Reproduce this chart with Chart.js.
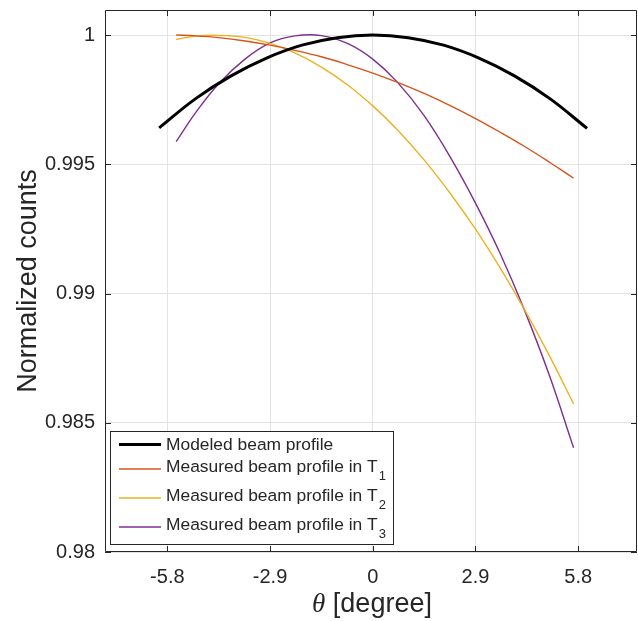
<!DOCTYPE html>
<html>
<head>
<meta charset="utf-8">
<script src="https://cdn.jsdelivr.net/npm/chart.js@4.4.1/dist/chart.umd.min.js"></script>
<style>
  html, body { margin: 0; padding: 0; background: #fff; }
  #wrap { width: 638px; height: 621px; }
</style>
</head>
<body>
<div id="wrap"><canvas id="chart"></canvas></div>
<script>
// tick positions / labels
const xTicks = [-5.8, -2.9, 0, 2.9, 5.8];
const xTickLabels = ['-5.8', '-2.9', '0', '2.9', '5.8'];
const yTicks = [0.98, 0.985, 0.99, 0.995, 1];
const yTickLabels = ['0.98', '0.985', '0.99', '0.995', '1'];

// modeled profile
const thetaModel = [-6.03, -5, -4, -3, -2, -1, 0, 1, 2, 3, 4, 5, 6.05];
const countsModel = [0.99641, 0.99754, 0.99842, 0.99911, 0.99961, 0.9999, 1.0,
                     0.9999, 0.99961, 0.99911, 0.99842, 0.99754, 0.99639];

// measured profiles
const thetaMeasured = [-5.55, -5, -4.35, -3.6, -2.9, -2.2, -1.45, -0.7, 0,
                       0.7, 1.45, 2.2, 2.9, 3.6, 4.3, 5, 5.67];
const countsT1 = [1.0, 0.99997, 0.9999, 0.99977, 0.99961, 0.99941, 0.99916, 0.99885, 0.99853,
                  0.99817, 0.99774, 0.99726, 0.99677, 0.99624, 0.99568, 0.99507, 0.99446];
const countsT2 = [0.99983, 0.99996, 0.99999, 0.99991, 0.99968, 0.99931, 0.99876, 0.99806, 0.99726,
                  0.99633, 0.99517, 0.99385, 0.99249, 0.99098, 0.98934, 0.98756, 0.98573];
const countsT3 = [0.99588, 0.997, 0.99812, 0.99908, 0.9997, 0.99997, 0.99998, 0.99967, 0.99907,
                  0.99817, 0.99688, 0.99525, 0.9935, 0.99154, 0.9893, 0.98678, 0.98403];

const seriesNames = ['Modeled beam profile', 'Measured beam profile in T',
                     'Measured beam profile in T', 'Measured beam profile in T'];
const seriesSubs = ['', '1', '2', '3'];

const pts = (xs, ys) => xs.map((x, i) => ({x: x, y: ys[i]}));

const AXIS = '#262626';
const SANS = '"Liberation Sans", Arial, Helvetica, sans-serif';

// box, inward ticks, legend and x label (MATLAB look)
const matlabFrame = {
    id: 'matlabFrame',
    afterDatasetsDraw(chart) {
        const {ctx, chartArea: a, scales: {x, y}} = chart;
        ctx.save();
        ctx.strokeStyle = AXIS;
        ctx.lineWidth = 1;
        ctx.beginPath();
        ctx.rect(a.left + 0.5, a.top + 0.5, a.right - a.left - 1, a.bottom - a.top - 1);
        xTicks.forEach(v => {
            const px = Math.round(x.getPixelForValue(v)) + 0.5;
            ctx.moveTo(px, a.bottom); ctx.lineTo(px, a.bottom - 6);
            ctx.moveTo(px, a.top); ctx.lineTo(px, a.top + 6);
        });
        yTicks.forEach(v => {
            const py = Math.round(y.getPixelForValue(v)) + 0.5;
            ctx.moveTo(a.left, py); ctx.lineTo(a.left + 6, py);
            ctx.moveTo(a.right, py); ctx.lineTo(a.right - 6, py);
        });
        ctx.stroke();
        ctx.restore();
    },
    afterDraw(chart) {
        const ctx = chart.ctx;
        ctx.save();

        // legend
        const bx = 110.5, by = 431.5, bw = 283, bh = 113;
        ctx.fillStyle = '#fff';
        ctx.fillRect(bx, by, bw, bh);
        ctx.strokeStyle = AXIS;
        ctx.lineWidth = 1;
        ctx.strokeRect(bx, by, bw, bh);
        const textY = [445, 467, 496.5, 525.5];
        const lineY = [444.5, 469, 498, 527];
        chart.data.datasets.forEach((ds, i) => {
            ctx.strokeStyle = ds.borderColor;
            ctx.lineWidth = ds.borderWidth;
            ctx.beginPath();
            ctx.moveTo(119, lineY[i]);
            ctx.lineTo(161, lineY[i]);
            ctx.stroke();
            ctx.fillStyle = AXIS;
            ctx.textBaseline = 'middle';
            ctx.textAlign = 'left';
            ctx.font = '17.4px ' + SANS;
            ctx.fillText(seriesNames[i], 166, textY[i]);
            if (seriesSubs[i]) {
                const w = ctx.measureText(seriesNames[i]).width;
                ctx.font = '13px ' + SANS;
                ctx.fillText(seriesSubs[i], 166 + w + 1, textY[i] + 9);
            }
        });

        // x axis label: italic theta + [degree]
        ctx.fillStyle = AXIS;
        ctx.textBaseline = 'alphabetic';
        ctx.textAlign = 'left';
        ctx.font = 'italic 27px "Liberation Serif", "DejaVu Serif", serif';
        const t1 = '\u03B8';
        const w1 = ctx.measureText(t1).width;
        ctx.font = '27px ' + SANS;
        const t2 = ' [degree]';
        const w2 = ctx.measureText(t2).width;
        const x0 = 372 - (w1 + w2) / 2;
        ctx.font = 'italic 27px "Liberation Serif", "DejaVu Serif", serif';
        ctx.fillText(t1, x0, 612);
        ctx.font = '27px ' + SANS;
        ctx.fillText(t2, x0 + w1, 612);
        ctx.restore();
    }
};

const ctx = document.getElementById('chart');
new Chart(ctx, {
    type: 'scatter',
    data: {
        datasets: [
            {
                label: seriesNames[0],
                data: pts(thetaModel, countsModel),
                borderColor: '#000000',
                borderWidth: 3,
                showLine: true,
                pointRadius: 0,
                tension: 0.4
            },
            {
                label: seriesNames[1] + seriesSubs[1],
                data: pts(thetaMeasured, countsT1),
                borderColor: '#D95319',
                borderWidth: 1.4,
                showLine: true,
                pointRadius: 0,
                tension: 0.4
            },
            {
                label: seriesNames[2] + seriesSubs[2],
                data: pts(thetaMeasured, countsT2),
                borderColor: '#EDB120',
                borderWidth: 1.4,
                showLine: true,
                pointRadius: 0,
                tension: 0.4
            },
            {
                label: seriesNames[3] + seriesSubs[3],
                data: pts(thetaMeasured, countsT3),
                borderColor: '#7E2F8E',
                borderWidth: 1.4,
                showLine: true,
                pointRadius: 0,
                tension: 0.4
            }
        ]
    },
    options: {
        responsive: true,
        maintainAspectRatio: false,
        animation: false,
        layout: { padding: { top: 10, right: 1, left: 0, bottom: 0 } },
        plugins: {
            legend: { display: false },
            tooltip: { enabled: false }
        },
        scales: {
            x: {
                type: 'linear',
                min: -7.56,
                max: 7.46,
                afterBuildTicks: s => { s.ticks = xTicks.map(v => ({value: v})); },
                afterFit: s => {
                    s.height = 69;
                    s.paddingLeft = 0;
                    s.paddingRight = 0;
                },
                grid: { color: '#e3e3e3', drawTicks: false },
                border: { display: false },
                ticks: {
                    padding: 13,
                    color: AXIS,
                    font: { family: SANS, size: 20 },
                    maxRotation: 0,
                    callback: v => xTickLabels[xTicks.indexOf(v)]
                }
            },
            y: {
                min: 0.98,
                max: 1.00097,
                afterBuildTicks: s => { s.ticks = yTicks.map(v => ({value: v})); },
                afterFit: s => {
                    s.width = 105;
                    s.paddingTop = 0;
                    s.paddingBottom = 0;
                },
                grid: { color: '#e3e3e3', drawTicks: false },
                border: { display: false },
                ticks: {
                    padding: 10,
                    color: AXIS,
                    font: { family: SANS, size: 20 },
                    callback: v => yTickLabels[yTicks.indexOf(v)]
                },
                title: {
                    display: true,
                    text: 'Normalized counts',
                    color: AXIS,
                    font: { family: SANS, size: 27 },
                    padding: { top: 12 }
                }
            }
        }
    },
    plugins: [matlabFrame]
});
</script>
</body>
</html>
